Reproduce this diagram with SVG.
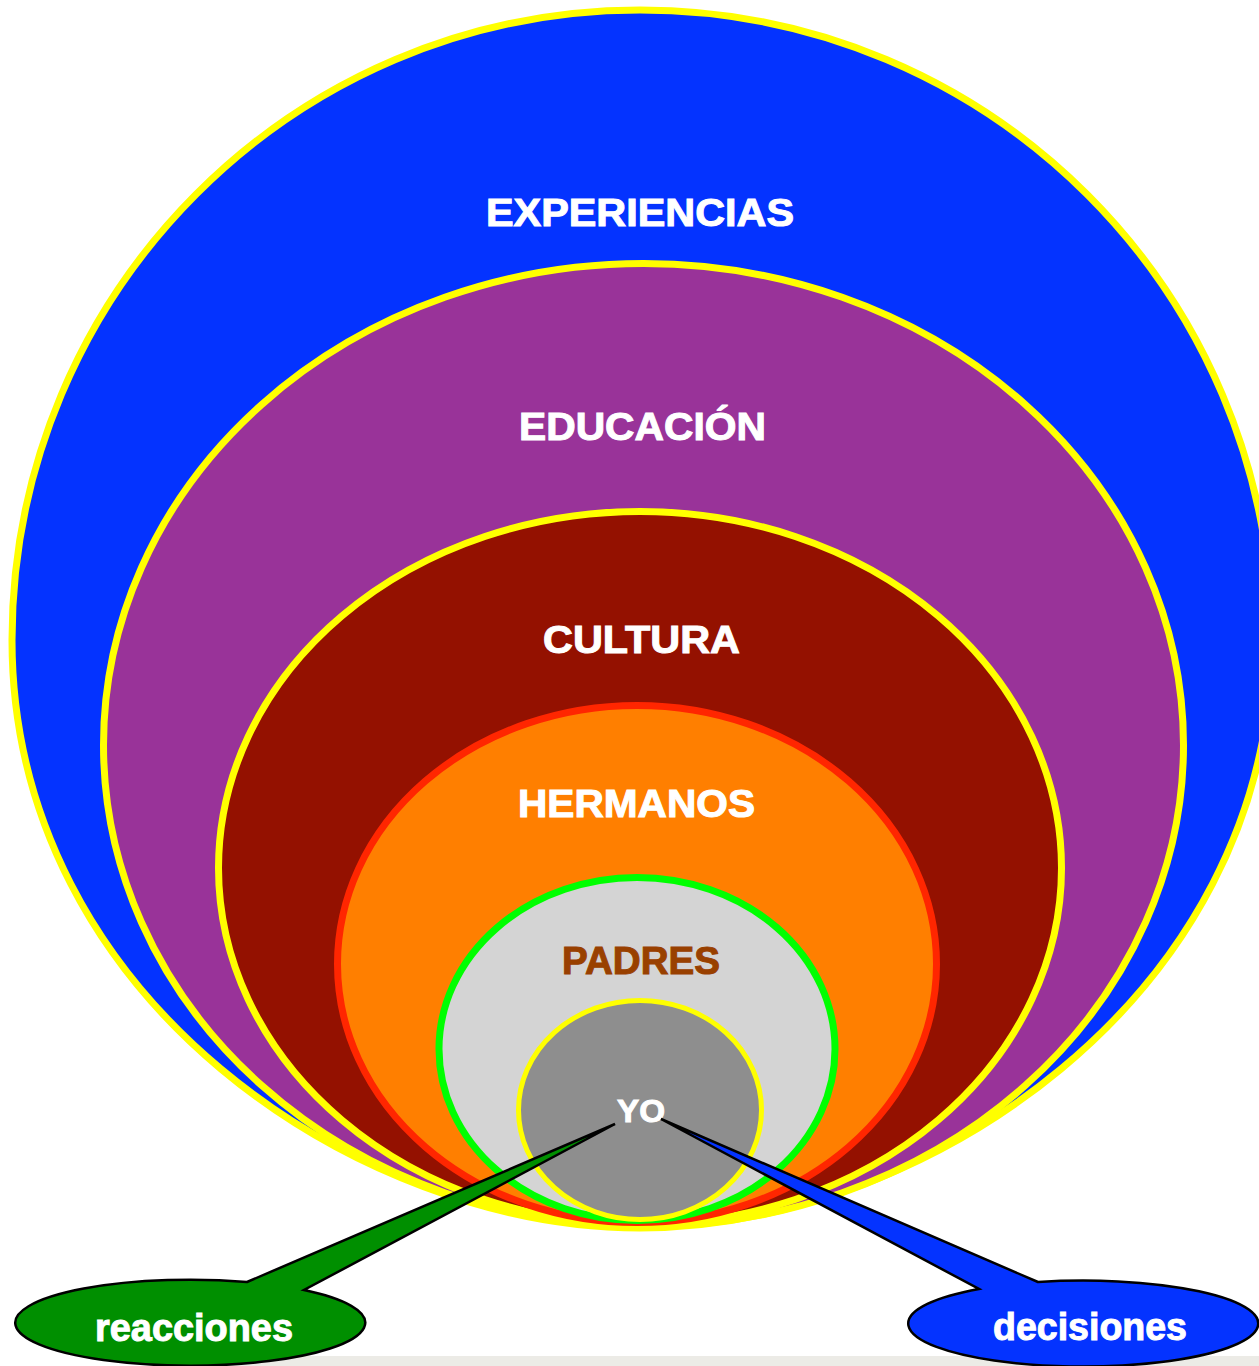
<svg xmlns="http://www.w3.org/2000/svg" width="1259" height="1366" viewBox="0 0 1259 1366">
  <style>
    .lbl { font-family: "Liberation Sans", Arial, sans-serif; font-weight: bold; fill: #ffffff; stroke: #ffffff; stroke-width: 1; text-anchor: middle; }
    .ring { stroke: #ffff00; stroke-width: 7; }
    .callout { stroke: #000000; stroke-width: 2.5; stroke-linejoin: miter; }
  </style>
  <rect x="0" y="0" width="1259" height="1366" fill="#ffffff"/>
  <rect x="200" y="1356" width="1059" height="10" fill="#ecebe6"/>

  <g id="experiencias">
    <path class="ring" fill="#0433ff" d="M 640,10 C 293,10 12,292 12,640 C 12,1000 360,1228 640,1228 C 920,1228 1272,1000 1272,640 C 1272,292 990,10 640,10 Z"/>
    <text class="lbl" x="640" y="226" font-size="38" textLength="308" lengthAdjust="spacingAndGlyphs">EXPERIENCIAS</text>
  </g>

  <g id="educacion">
    <ellipse class="ring" fill="#993399" cx="643.5" cy="745" rx="540" ry="481.5"/>
    <text class="lbl" x="642.5" y="440" font-size="38" textLength="247" lengthAdjust="spacingAndGlyphs">EDUCACIÓN</text>
  </g>

  <g id="cultura">
    <ellipse class="ring" fill="#941100" cx="640" cy="868" rx="421.5" ry="356.5"/>
    <text class="lbl" x="641.5" y="653" font-size="38" textLength="197" lengthAdjust="spacingAndGlyphs">CULTURA</text>
  </g>

  <g id="hermanos">
    <ellipse fill="#ff7f00" stroke="#ff2600" stroke-width="7" cx="637" cy="964" rx="299.5" ry="258.5"/>
    <text class="lbl" x="636.5" y="817" font-size="38" textLength="237" lengthAdjust="spacingAndGlyphs">HERMANOS</text>
  </g>

  <g id="padres">
    <ellipse fill="#d4d4d4" stroke="#00ff00" stroke-width="7" cx="637" cy="1049" rx="198" ry="171.5"/>
    <text class="lbl" x="641" y="974" font-size="38" textLength="158" lengthAdjust="spacingAndGlyphs" style="fill:#994000;stroke:#994000">PADRES</text>
  </g>

  <g id="yo">
    <ellipse fill="#8e8e8e" stroke="#ffff00" stroke-width="5" cx="640" cy="1110" rx="121.5" ry="109.5"/>
    <text class="lbl" x="641" y="1122" font-size="32" textLength="48" lengthAdjust="spacingAndGlyphs">YO</text>
  </g>

  <g id="connectors"></g>

  <g id="reacciones">
    <path class="callout" fill="#008f00" d="M 247,1282 L 615,1124 L 304,1290 A 175 43 0 1 1 247,1282 Z"/>
    <text class="lbl" x="194" y="1341" font-size="38" textLength="198" lengthAdjust="spacingAndGlyphs">reacciones</text>
  </g>

  <g id="decisiones">
    <path class="callout" fill="#0433ff" d="M 1038,1282 L 661,1119 L 979,1289 A 175 43 0 1 0 1038,1282 Z"/>
    <text class="lbl" x="1090" y="1340" font-size="38" textLength="194" lengthAdjust="spacingAndGlyphs">decisiones</text>
  </g>
</svg>
